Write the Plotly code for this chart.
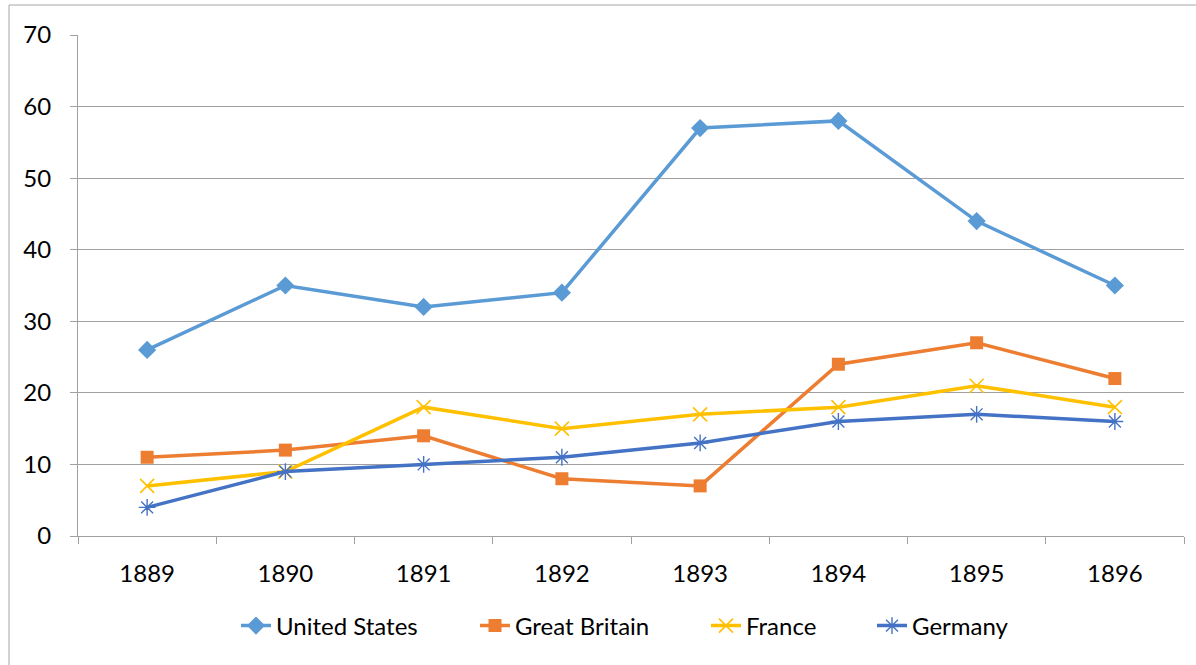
import plotly.graph_objects as go

years = ["1889", "1890", "1891", "1892", "1893", "1894", "1895", "1896"]
united_states = [26, 35, 32, 34, 57, 58, 44, 35]
great_britain = [11, 12, 14, 8, 7, 24, 27, 22]
france = [7, 9, 18, 15, 17, 18, 21, 18]
germany = [4, 9, 10, 11, 13, 16, 17, 16]

W, H = 1196, 665
L, R, T, B = 78, 12, 35, 129
pw, ph = W - L - R, H - T - B

FONT = "Lato"
FS = 24

series = [
    ("United States", united_states, "#5B9BD5", dict(symbol="diamond", size=14)),
    ("Great Britain", great_britain, "#ED7D31", dict(symbol="square", size=13)),
    ("France", france, "#FFC000", dict(symbol="x-thin", size=14, line=dict(width=1.6, color="#FFC000"))),
    ("Germany", germany, "#4472C4", dict(symbol="asterisk", size=14, line=dict(width=1.4, color="#4472C4"))),
]
legend_x = [236, 475, 706, 872]  # px from left where each legend entry begins

fig = go.Figure()
legend_layouts = {}
for i, (name, vals, col, mk) in enumerate(series):
    lname = "legend" if i == 0 else f"legend{i+1}"
    fig.add_trace(go.Scatter(
        x=years, y=vals, name=name, mode="lines+markers",
        line=dict(color=col, width=3.5),
        marker=dict(color=col, **mk),
        legend=lname,
    ))
    legend_layouts[lname] = dict(
        xref="container", yref="container",
        x=legend_x[i] / W, xanchor="left",
        y=1 - 626 / H, yanchor="middle",
        orientation="h", font=dict(family=FONT, size=FS, color="#000000"),
        bgcolor="rgba(0,0,0,0)", borderwidth=0,
    )

# outer chart-area border (left and top edges visible)
fig.add_shape(type="rect", xref="paper", yref="paper",
              x0=(9 - L) / pw, x1=(W + 20 - L) / pw,
              y0=-(H + 20 - T - ph) / ph, y1=(H - B - 5) / ph,
              line=dict(color="#A6A6A6", width=1), layer="below")

fig.update_layout(
    width=W, height=H,
    margin=dict(l=L, r=R, t=T, b=B, autoexpand=False),
    paper_bgcolor="white", plot_bgcolor="white",
    font=dict(family=FONT, size=FS, color="#000000"),
    showlegend=True,
    xaxis=dict(
        type="category", range=[-0.5, 7.5],
        tickson="boundaries", ticks="outside", ticklen=7, tickcolor="#A0A0A0",
        showline=True, linecolor="#A0A0A0", linewidth=1,
        showgrid=False, zeroline=False,
        tickfont=dict(size=FS), ticklabelstandoff=16,
    ),
    yaxis=dict(
        range=[0, 70], dtick=10, tick0=0,
        ticks="outside", ticklen=7, tickcolor="#A0A0A0",
        showline=True, linecolor="#A0A0A0", linewidth=1,
        showgrid=True, gridcolor="#A0A0A0", gridwidth=1,
        zeroline=False, tickfont=dict(size=FS), ticklabelstandoff=14,
    ),
    **legend_layouts,
)

fig.write_html("out.html", config={"displayModeBar": False},
               post_script="document.body.style.margin='0';document.body.style.overflow='hidden';")
